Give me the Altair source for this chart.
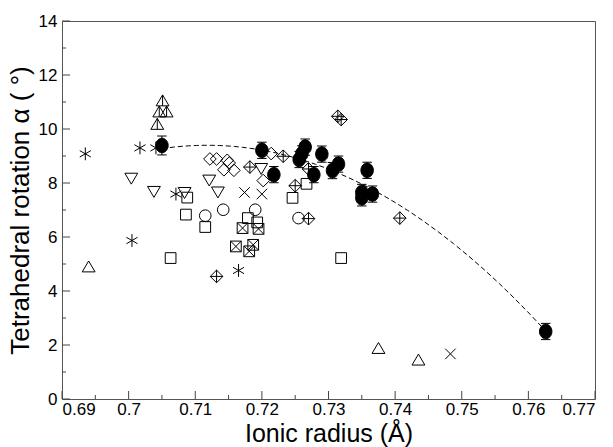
import altair as alt
import pandas as pd

# ---- data ----
filled_x = [0.7050, 0.7200, 0.7218, 0.7256, 0.7260, 0.7265, 0.7278, 0.7290, 0.7306, 0.7315, 0.7358, 0.7350, 0.7350, 0.7366, 0.7626]
filled_y = [9.39, 9.21, 8.31, 8.87, 9.08, 9.33, 8.31, 9.07, 8.46, 8.70, 8.47, 7.65, 7.45, 7.59, 2.50]
filled_err = [0.35, 0.30, 0.30, 0.30, 0.30, 0.30, 0.30, 0.30, 0.30, 0.30, 0.30, 0.30, 0.30, 0.30, 0.30]

diamond_x = [0.7122, 0.7132, 0.7148, 0.7151, 0.7143, 0.7158, 0.7214, 0.7202]
diamond_y = [8.89, 8.89, 8.84, 8.74, 8.49, 8.47, 9.09, 8.09]

dplus_x = [0.7232, 0.7182, 0.7270, 0.7250, 0.7270, 0.7407, 0.7314, 0.7319, 0.7132]
dplus_y = [8.99, 8.59, 8.52, 7.90, 6.68, 6.70, 10.47, 10.35, 4.54]

square_x = [0.7088, 0.7086, 0.7063, 0.7115, 0.7179, 0.7193, 0.7267, 0.7246, 0.7319]
square_y = [7.46, 6.83, 5.22, 6.37, 6.70, 6.54, 7.97, 7.45, 5.22]

sqx_x = [0.7171, 0.7195, 0.7161, 0.7187, 0.7181]
sqx_y = [6.33, 6.30, 5.65, 5.71, 5.47]

circle_x = [0.7115, 0.7142, 0.7190, 0.7255]
circle_y = [6.79, 7.01, 7.01, 6.70]

tri_x = [0.6940, 0.7375, 0.7435]
tri_y = [4.91, 1.89, 1.46]

triline_x = [0.7051, 0.7046, 0.7057, 0.7043]
triline_y = [11.06, 10.65, 10.65, 10.19]

tridown_x = [0.7004, 0.7038, 0.7084, 0.7121, 0.7134, 0.7199]
tridown_y = [8.16, 7.67, 7.63, 8.09, 7.65, 8.52]

aster_x = [0.6935, 0.7017, 0.7041, 0.7071, 0.7005, 0.7165]
aster_y = [9.08, 9.30, 9.30, 7.59, 5.87, 4.76]

cross_x = [0.7174, 0.7200, 0.7483]
cross_y = [7.65, 7.59, 1.67]

x_major = [0.69, 0.70, 0.71, 0.72, 0.73, 0.74, 0.75, 0.76, 0.77]
x_minor = [0.695, 0.705, 0.715, 0.725, 0.735, 0.745, 0.755, 0.765]
y_major = [0, 2, 4, 6, 8, 10, 12, 14]
y_minor = [1, 3, 5, 7, 9, 11, 13]

# ---- shapes ----
P_DIAMOND = "M0,-1L1,0L0,1L-1,0Z"
P_DPLUS = "M0,-1L1,0L0,1L-1,0Z M0,-1L0,1 M-1,0L1,0"
P_SQUARE = "M-1,-1L1,-1L1,1L-1,1Z"
P_SQX = "M-1,-1L1,-1L1,1L-1,1Z M-1,-1L1,1 M1,-1L-1,1"
P_TRI = "M0,-0.85L1,0.85L-1,0.85Z"
P_TRILINE = "M0,-0.85L1,0.85L-1,0.85Z M0,-0.85L0,0.85"
P_TRIDOWN = "M-1,-0.85L1,-0.85L0,0.85Z"
P_ASTER = "M0,-1L0,1 M-0.866,-0.5L0.866,0.5 M-0.866,0.5L0.866,-0.5"
P_CROSS = "M-1,-1L1,1 M1,-1L-1,1"
P_ELLIPSE = "M0,-1A0.86,1 0 1,1 0,1A0.86,1 0 1,1 0,-1Z"
P_CAP = "M-1,0L1,0"

xs = alt.Scale(domain=[0.69, 0.77], nice=False, zero=False)
ys = alt.Scale(domain=[0, 14], nice=False, zero=False)

FONT = "Liberation Sans"

x_axis = alt.Axis(values=x_major, format=".2~f", title="Ionic radius (Å)",
                  grid=False, ticks=False, domain=False, labelOverlap=False,
                  labelPadding=2, labelFontSize=17, titleFontSize=25,
                  titlePadding=4)
y_axis = alt.Axis(values=y_major, format="d", title="Tetrahedral rotation α ( °)",
                  grid=False, ticks=False, domain=False, labelOverlap=False,
                  labelPadding=5, labelFontSize=17, titleFontSize=26,
                  titlePadding=5)


def X(field):
    return alt.X(field, type="quantitative", scale=xs, axis=x_axis)


def Y(field):
    return alt.Y(field, type="quantitative", scale=ys, axis=y_axis)


def df(xv, yv):
    return pd.DataFrame({"x": xv, "y": yv})


def pts(xv, yv, shape, size, filled=False):
    base = alt.Chart(df(xv, yv))
    if filled:
        m = base.mark_point(shape=shape, size=size, filled=True, fill="black",
                            stroke="black", strokeWidth=1, opacity=1)
    else:
        m = base.mark_point(shape=shape, size=size, filled=False,
                            stroke="black", strokeWidth=1, opacity=1)
    return m.encode(x=X("x"), y=Y("y"))


fdf = pd.DataFrame({"x": filled_x, "y": filled_y, "e": filled_err})
fdf["lo"] = fdf["y"] - fdf["e"]
fdf["hi"] = fdf["y"] + fdf["e"]

fit = alt.Chart(fdf).transform_regression(
    "x", "y", method="poly", order=2, extent=[0.705, 0.7626]
).mark_line(color="black", strokeWidth=1, strokeDash=[5, 3]).encode(
    x=X("x"), y=Y("y")
)

err_rule = alt.Chart(fdf).mark_rule(color="black", strokeWidth=1).encode(
    x=X("x"), y=Y("lo"), y2="hi:Q")
cap_lo = alt.Chart(fdf).mark_point(shape=P_CAP, size=90, filled=False, stroke="black", strokeWidth=1, opacity=1).encode(
    x=X("x"), y=Y("lo"))
cap_hi = alt.Chart(fdf).mark_point(shape=P_CAP, size=90, filled=False, stroke="black", strokeWidth=1, opacity=1).encode(
    x=X("x"), y=Y("hi"))

TICK_COLOR = "#444444"
xt_major = alt.Chart(pd.DataFrame({"v": x_major})).mark_rule(color=TICK_COLOR, strokeWidth=1).encode(
    x=X("v"), y=alt.value(378), y2=alt.value(370))
xt_minor = alt.Chart(pd.DataFrame({"v": x_minor})).mark_rule(color=TICK_COLOR, strokeWidth=1).encode(
    x=X("v"), y=alt.value(378), y2=alt.value(374))
yt_major = alt.Chart(pd.DataFrame({"v": y_major})).mark_rule(color=TICK_COLOR, strokeWidth=1).encode(
    y=Y("v"), x=alt.value(0), x2=alt.value(8))
yt_minor = alt.Chart(pd.DataFrame({"v": y_minor})).mark_rule(color=TICK_COLOR, strokeWidth=1).encode(
    y=Y("v"), x=alt.value(0), x2=alt.value(4))

layers = [
    xt_major, xt_minor, yt_major, yt_minor, fit,
    pts(diamond_x, diamond_y, P_DIAMOND, 160),
    pts(dplus_x, dplus_y, P_DPLUS, 160),
    pts(square_x, square_y, P_SQUARE, 115),
    pts(sqx_x, sqx_y, P_SQX, 115),
    pts(circle_x, circle_y, "circle", 135),
    pts(tri_x, tri_y, P_TRI, 165),
    pts(triline_x, triline_y, P_TRILINE, 165),
    pts(tridown_x, tridown_y, P_TRIDOWN, 165),
    pts(aster_x, aster_y, P_ASTER, 165),
    pts(cross_x, cross_y, P_CROSS, 110),
    err_rule, cap_lo, cap_hi,
    pts(filled_x, filled_y, P_ELLIPSE, 210, filled=True),
]

chart = alt.layer(*layers).properties(
    width=533, height=378,
    padding={"left": 62, "top": 21, "right": 18, "bottom": 48},
    autosize=alt.AutoSizeParams(type="none"),
    background="white",
).configure_view(
    stroke="#555555", strokeWidth=1
).configure_axis(
    labelFont=FONT, titleFont=FONT, labelColor="black", titleColor="black",
    titleFontWeight="normal",
)

chart.save("out.html", embed_options={"renderer": "svg", "actions": False})
